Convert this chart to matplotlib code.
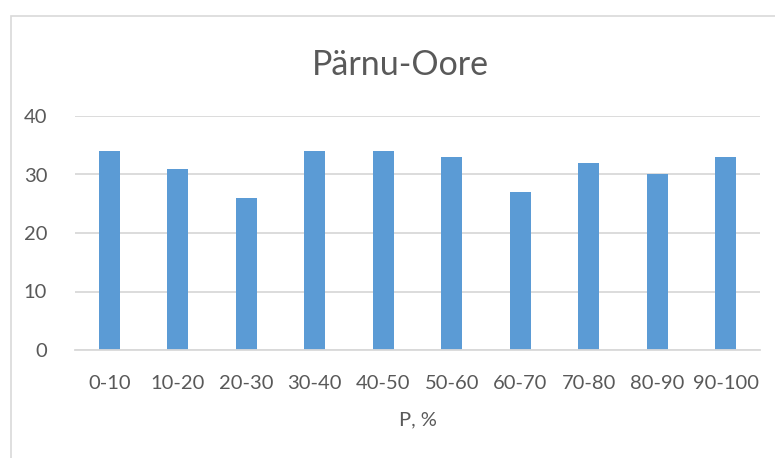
import matplotlib.pyplot as plt
from matplotlib.patches import Rectangle

categories = ['0-10', '10-20', '20-30', '30-40', '40-50', '50-60',
              '60-70', '70-80', '80-90', '90-100']
values = [34, 31, 26, 34, 34, 33, 27, 32, 30, 33]

text_col = '#595959'
grid_col = '#D9D9D9'
bar_col = '#5B9BD5'

plt.rcParams['font.family'] = ['Lato', 'DejaVu Sans']

fig = plt.figure(figsize=(7.75, 4.58), dpi=100)

# chart border (runs off the right and bottom edges)
fig.patches.append(Rectangle((11 / 775, -0.1), 1.0, (458 - 16) / 458 + 0.1,
                             transform=fig.transFigure, fill=False,
                             edgecolor=grid_col, linewidth=1.2))

ax = fig.add_axes([75 / 775, (458 - 350) / 458, (760 - 75) / 775, (350 - 116) / 458])
x = range(len(categories))
ax.bar(x, values, width=0.31, color=bar_col, zorder=3)

ax.set_xlim(-0.5, len(categories) - 0.5)
ax.set_ylim(0, 40)
ax.set_yticks([0, 10, 20, 30, 40])
ax.set_xticks(list(x))
ax.set_xticklabels(categories)
ax.yaxis.grid(True, color=grid_col, linewidth=1.3, zorder=0)
for s in ['top', 'right', 'left']:
    ax.spines[s].set_visible(False)
ax.spines['bottom'].set_color(grid_col)
ax.spines['bottom'].set_linewidth(1.3)
ax.spines['bottom'].set_zorder(4)
ax.tick_params(length=0, labelsize=14.5, colors=text_col)
ax.tick_params(axis='x', pad=18)
ax.tick_params(axis='y', pad=20)

fig.text(0.517, 1 - 65 / 458, 'Pärnu-Oore', ha='center', va='center',
         fontsize=24.5, color=text_col)
ax.set_xlabel('P, %', fontsize=14.5, color=text_col, labelpad=14)

fig.savefig('out.png', dpi=100)
